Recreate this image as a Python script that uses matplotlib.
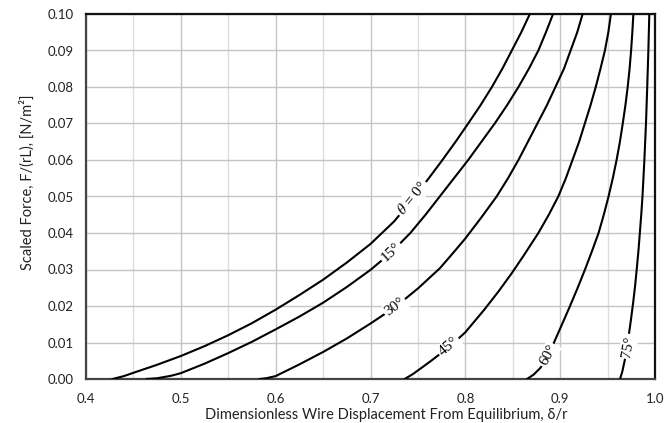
import numpy as np
import matplotlib
matplotlib.use("Agg")
import matplotlib.pyplot as plt
from matplotlib.ticker import MultipleLocator, FormatStrFormatter

# ---- data ----
angles = [0, 15, 30, 45, 60, 75]
label_texts = [r"$\theta$ = 0°", "15°", "30°", "45°", "60°", "75°"]

x_00 = [0.428, 0.44, 0.45, 0.475, 0.50, 0.525, 0.55, 0.575, 0.60, 0.625, 0.65, 0.675, 0.70,
        0.725, 0.745, 0.76, 0.775, 0.79, 0.803, 0.816, 0.828, 0.839, 0.849, 0.859, 0.868]
y_00 = [0.0, 0.0008, 0.0017, 0.0039, 0.0063, 0.0090, 0.0120, 0.0153, 0.0190, 0.0230, 0.0272, 0.0319, 0.0370,
        0.0432, 0.0495, 0.0545, 0.0597, 0.0651, 0.0700, 0.0750, 0.0800, 0.0850, 0.0900, 0.0950, 0.1000]

x_15 = [0.464, 0.475, 0.49, 0.50, 0.525, 0.55, 0.575, 0.60, 0.625, 0.65, 0.675, 0.70, 0.722,
        0.742, 0.758, 0.773, 0.788, 0.803, 0.817, 0.831, 0.844, 0.856, 0.867, 0.877, 0.885, 0.8925]
y_15 = [0.0, 0.0002, 0.0009, 0.0016, 0.0042, 0.0071, 0.0102, 0.0136, 0.0171, 0.0209, 0.0252, 0.0299, 0.0347,
        0.0400, 0.0450, 0.0500, 0.0550, 0.0600, 0.0650, 0.0700, 0.0750, 0.0800, 0.0850, 0.0900, 0.0950, 0.1000]

x_30 = [0.583, 0.59, 0.60, 0.625, 0.65, 0.675, 0.70, 0.726, 0.75, 0.773, 0.787, 0.80, 0.817,
        0.833, 0.845, 0.856, 0.866, 0.876, 0.886, 0.895, 0.904, 0.911, 0.918, 0.9237]
y_30 = [0.0, 0.0002, 0.0008, 0.0040, 0.0074, 0.0111, 0.0152, 0.0197, 0.0248, 0.0303, 0.0345, 0.0385, 0.0443,
        0.0500, 0.0550, 0.0600, 0.0650, 0.0700, 0.0750, 0.0800, 0.0850, 0.0900, 0.0950, 0.1000]

x_45 = [0.736, 0.745, 0.763, 0.784, 0.80, 0.82, 0.835, 0.849, 0.862, 0.877, 0.888, 0.898, 0.906,
        0.913, 0.920, 0.926, 0.932, 0.9375, 0.9425, 0.9472, 0.9508, 0.9535]
y_45 = [0.0, 0.0014, 0.0048, 0.0090, 0.0128, 0.0190, 0.0240, 0.0290, 0.0340, 0.0400, 0.0450, 0.0500, 0.0550,
        0.0600, 0.0650, 0.0700, 0.0750, 0.0800, 0.0850, 0.0900, 0.0950, 0.1000]

x_60 = [0.865, 0.872, 0.879, 0.8855, 0.8935, 0.902, 0.9104, 0.9185, 0.9262, 0.9335, 0.9405, 0.946,
        0.951, 0.9555, 0.9595, 0.963, 0.966, 0.9688, 0.9712, 0.9732, 0.9748, 0.9761, 0.9772]
y_60 = [0.0, 0.0012, 0.0030, 0.0055, 0.0100, 0.0150, 0.0200, 0.0250, 0.0300, 0.0350, 0.0400, 0.0450,
        0.0500, 0.0550, 0.0600, 0.0650, 0.0700, 0.0750, 0.0800, 0.0850, 0.0900, 0.0950, 0.1000]

x_75 = [0.9631, 0.9655, 0.968, 0.970, 0.9718, 0.9745, 0.977, 0.979, 0.9807, 0.9825, 0.984, 0.9855,
        0.9868, 0.9888, 0.9905, 0.9918, 0.993, 0.994]
y_75 = [0.0, 0.0020, 0.0050, 0.0080, 0.0110, 0.0160, 0.0210, 0.0255, 0.0300, 0.0350, 0.0400, 0.0450,
        0.0500, 0.0600, 0.0700, 0.0800, 0.0900, 0.1000]

label_x = [0.744, 0.722, 0.726, 0.783, 0.8875, 0.972]
label_y = [0.0495, 0.0347, 0.0197, 0.0088, 0.0065, 0.0089]

xticks = [0.4, 0.5, 0.6, 0.7, 0.8, 0.9, 1.0]
yticks = [0.00, 0.01, 0.02, 0.03, 0.04, 0.05, 0.06, 0.07, 0.08, 0.09, 0.10]

curves = [(x_00, y_00), (x_15, y_15), (x_30, y_30), (x_45, y_45), (x_60, y_60), (x_75, y_75)]

# ---- figure ----
plt.rcParams['font.family'] = ['Lato', 'DejaVu Sans']
plt.rcParams['mathtext.fontset'] = 'stix'

fig = plt.figure(figsize=(6.64, 4.23), dpi=100)
ax = fig.add_axes([86 / 664, 1 - 379 / 423, (655 - 86) / 664, (379 - 14) / 423])

ax.set_xlim(0.4, 1.0)
ax.set_ylim(0.0, 0.10)
ax.set_xticks(xticks)
ax.set_yticks(yticks)
ax.xaxis.set_minor_locator(MultipleLocator(0.05))
ax.xaxis.set_major_formatter(FormatStrFormatter('%.1f'))
ax.yaxis.set_major_formatter(FormatStrFormatter('%.2f'))
ax.tick_params(which='both', length=0, labelsize=9.5, colors='#222222')
ax.tick_params(axis='x', pad=10)
ax.tick_params(axis='y', pad=9)

ax.grid(which='major', color='#c4c4c4', linewidth=1.0, zorder=0)
ax.grid(which='minor', axis='x', color='#dedede', linewidth=1.0, zorder=0)
ax.set_axisbelow(True)

for sp in ax.spines.values():
    sp.set_linewidth(1.6)
    sp.set_color('#111111')
ax.spines['left'].set_color('#444444')
ax.spines['bottom'].set_color('#444444')

for (xs, ys) in curves:
    ax.plot(xs, ys, color='black', linewidth=1.5, zorder=3, clip_on=True,
            solid_joinstyle='round')

fig.canvas.draw()
for (xs, ys), txt, lx, ly in zip(curves, label_texts, label_x, label_y):
    pts = ax.transData.transform(np.column_stack([xs, ys]))
    p = ax.transData.transform((lx, ly))
    d = np.hypot(pts[:, 0] - p[0], pts[:, 1] - p[1])
    i = int(np.argmin(d))
    i0 = max(i - 1, 0)
    i1 = min(i + 1, len(xs) - 1)
    ang = np.degrees(np.arctan2(pts[i1, 1] - pts[i0, 1], pts[i1, 0] - pts[i0, 0]))
    ax.text(lx, ly, txt, rotation=ang, rotation_mode='anchor', ha='center', va='center',
            fontsize=11, family='Liberation Serif', zorder=5,
            bbox=dict(facecolor='white', edgecolor='none', pad=1.4))

ax.set_xlabel('Dimensionless Wire Displacement From Equilibrium, δ/r', fontsize=10.5, color='#222222')
ax.xaxis.set_label_coords((386 - 86) / 569, -0.08)
ax.set_ylabel('Scaled Force, F/(rL), [N/m²]', fontsize=10.5, color='#222222')
ax.yaxis.set_label_coords(-0.09, 0.54)

fig.savefig('out.png', dpi=100)
